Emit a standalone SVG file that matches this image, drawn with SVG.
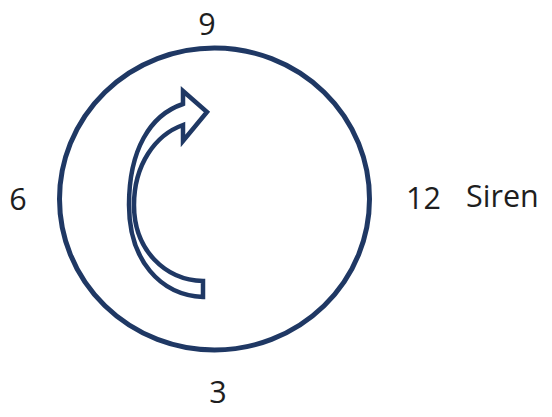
<svg xmlns="http://www.w3.org/2000/svg" width="552" height="417" viewBox="0 0 552 417">
<style>
.lbl{font-family:"Open Sans","Liberation Sans",sans-serif;font-size:30.5px;fill:#1e1e1e}
.shape{fill:none;stroke:#1f3864;stroke-linejoin:miter}
</style>
<rect width="552" height="417" fill="#ffffff"/>
<g id="dial">
<ellipse class="shape" stroke-width="5" cx="214.5" cy="199" rx="155" ry="151"/>
</g>
<g id="arrow">
<path class="shape" stroke-width="4.5" d="M 203 297 C 160 295 129 260 129 205 C 129 150 150 115 183 104 L 183 91 L 207 112 L 183 141 L 183 125 C 155 135 134 165 134 205 C 134 250 165 280 203 281 Z"/>
</g>
<g id="labels">
<text class="lbl" x="207" y="35" text-anchor="middle">9</text>
<text class="lbl" x="18" y="210" text-anchor="middle">6</text>
<text class="lbl" x="406" y="209">12</text>
<text class="lbl" x="466" y="207">Siren</text>
<text class="lbl" x="218" y="403" text-anchor="middle">3</text>
</g>
</svg>
